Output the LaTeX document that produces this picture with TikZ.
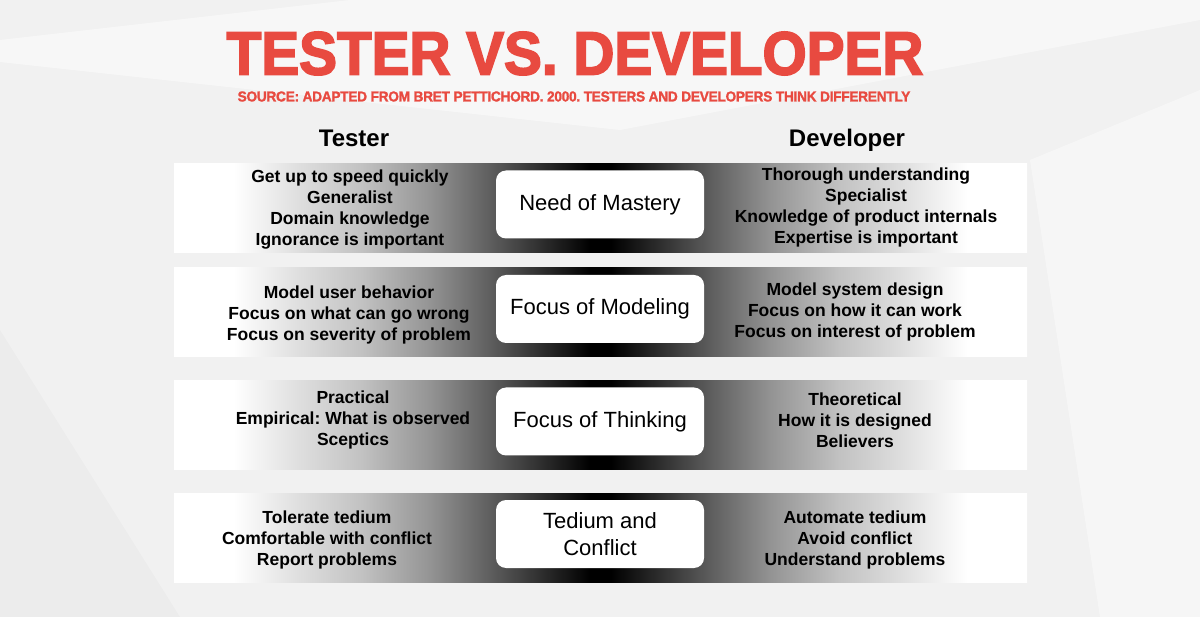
\documentclass[tikz,border=0pt]{standalone}
\usepackage{fontspec}
\setmainfont{Liberation Sans}
\newfontfamily\titlefont[FakeBold=3]{Liberation Sans Bold}
\newfontfamily\sourcefont[FakeBold=1.5, LetterSpace=-2]{Liberation Sans Bold}
\usetikzlibrary{shadings}
\frenchspacing

\definecolor{titlered}{RGB}{232,74,64}
\definecolor{bggray}{RGB}{241,241,241}
\pgfdeclarehorizontalshading{bandshade}{100bp}{color(0bp)=(white); color(28.5bp)=(white); color(32.4bp)=(black!13); color(36bp)=(black!24); color(40bp)=(black!42); color(43.5bp)=(black!63); color(47bp)=(black!85); color(49.4bp)=(black); color(50.6bp)=(black); color(53bp)=(black!85); color(56.5bp)=(black!63); color(60bp)=(black!42); color(64bp)=(black!24); color(67.6bp)=(black!13); color(71.5bp)=(white); color(100bp)=(white)}

\begin{document}
\begin{tikzpicture}[x=1pt,y=-1pt]
\tikzset{band/.style = {shape=rectangle, minimum width=853pt, minimum height=89pt, inner sep=0pt, shading=bandshade}}
\tikzset{topic/.style = {shape=rectangle, rounded corners=10pt, fill=white, minimum width=208pt, minimum height=68pt, align=center, font=\fontsize{22}{26.5}\selectfont}}
\tikzset{item/.style = {align=center, inner sep=0pt, font=\bfseries\fontsize{17.5}{21}\selectfont}}
\tikzset{head/.style = {anchor=base, inner sep=0pt, font=\bfseries\fontsize{24}{28}\selectfont}}

% background facets
\fill[bggray] (0,0) rectangle (1200,617);
\fill[white, opacity=.45] (0,40) -- (350,0) -- (1200,0) -- (1200,20) -- (620,130) -- (0,62) -- cycle;
\fill[white, opacity=.4] (1030,160) -- (1200,90) -- (1200,617) -- (1100,617) -- cycle;
\fill[black, opacity=.02] (0,330) -- (180,617) -- (0,617) -- cycle;
\useasboundingbox (0,0) rectangle (1200,617);

% title
\node[text=titlered, font=\titlefont\fontsize{61}{61}\selectfont, xscale=0.93, inner sep=0pt] (title) at (575,53.5) {TESTER VS. DEVELOPER};
\node[text=titlered, font=\sourcefont\fontsize{14.4}{15}\selectfont, xscale=0.95, inner sep=0pt] (source) at (574,96.5) {SOURCE: ADAPTED FROM BRET PETTICHORD. 2000. TESTERS AND DEVELOPERS THINK DIFFERENTLY};
\node[head] (tester) at (354,147) {Tester};
\node[head] (developer) at (847,147) {Developer};

% need of mastery
\begin{scope}[shift={(0,208)}]
\node[band] (b1) at (600.5,0) {};
\node[topic] (m1) at (600,-3.5) {Need of Mastery};
\node[item] (t1) at (350,2) {Get up to speed quickly\\Generalist\\Domain knowledge\\Ignorance is important};
\node[item] (d1) at (866,-0.5) {Thorough understanding\\Specialist\\Knowledge of product internals\\Expertise is important};
\end{scope}

% focus of modeling
\begin{scope}[shift={(0,312.5)}]
\node[band] (b2) at (600.5,0) {};
\node[topic] (m2) at (600,-3.5) {Focus of Modeling};
\node[item] (t2) at (349,2.5) {Model user behavior\\Focus on what can go wrong\\Focus on severity of problem};
\node[item] (d2) at (855,-0.5) {Model system design\\Focus on how it can work\\Focus on interest of problem};
\end{scope}

% focus of thinking
\begin{scope}[shift={(0,425)}]
\node[band] (b3) at (600.5,0) {};
\node[topic] (m3) at (600,-3.5) {Focus of Thinking};
\node[item] (t3) at (353,-5) {Practical\\Empirical: What is observed\\Sceptics};
\node[item] (d3) at (855,-5) {Theoretical\\How it is designed\\Believers};
\end{scope}

% tedium and conflict
\begin{scope}[shift={(0,537.5)}]
\node[band] (b4) at (600.5,0) {};
\node[topic] (m4) at (600,-3.5) {Tedium and\\Conflict};
\node[item] (t4) at (327,2.5) {Tolerate tedium\\Comfortable with conflict\\Report problems};
\node[item] (d4) at (855,2.5) {Automate tedium\\Avoid conflict\\Understand problems};
\end{scope}

\end{tikzpicture}
\end{document}
